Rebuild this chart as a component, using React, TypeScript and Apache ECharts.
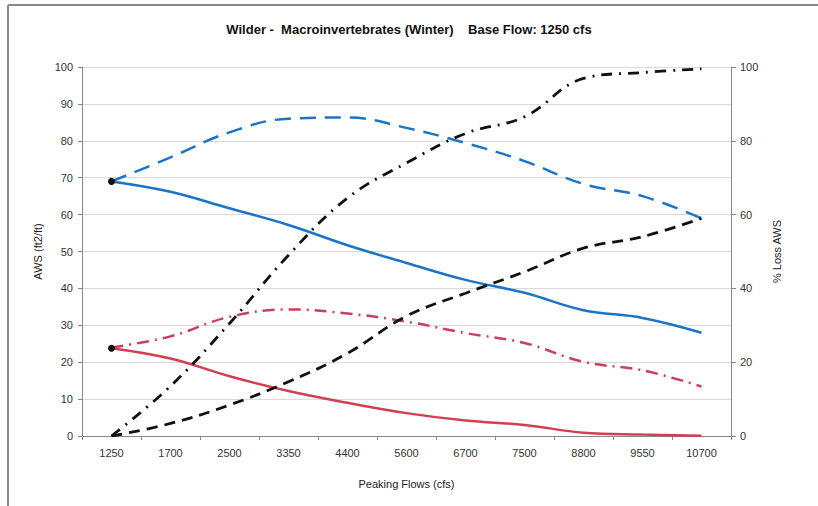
import React, { useEffect, useRef } from "react";
import * as echarts from "echarts";

const categories = ["1250", "1700", "2500", "3350", "4400", "5600", "6700", "7500", "8800", "9550", "10700"];
const awsBlueSolid = [69, 66.2, 61.7, 57.2, 51.7, 46.9, 42.3, 38.8, 34.1, 32, 28];
const awsBlueDashed = [69, 75.5, 82.3, 86, 86.3, 83.5, 79.4, 74.5, 68.3, 65, 59];
const awsRedSolid = [23.8, 21, 16.2, 12.2, 9, 6.2, 4.2, 3, 0.9, 0.4, 0.1];
const awsRedDashDot = [24, 27, 32.3, 34.3, 33.2, 31, 27.9, 25.2, 20.1, 17.8, 13.4];
const lossBlackDashed = [0, 3.4, 8.4, 14.7, 22.4, 32.5, 38.7, 44.5, 50.9, 54, 59];
const lossBlackDashDot = [0, 13.5, 30.5, 49, 64.5, 74, 82, 86.5, 96.9, 98.5, 99.5];

const FONT = "Liberation Sans, Arial, sans-serif";

function withStartMarker(values: number[]) {
  return values.map((v, i) =>
    i === 0
      ? { value: v, symbol: "circle", symbolSize: 7, itemStyle: { color: "#111" } }
      : { value: v, symbol: "none" }
  );
}

export default function App() {
  const ref = useRef<HTMLDivElement>(null);
  useEffect(() => {
    if (!ref.current) return;
    const chart = echarts.init(ref.current, undefined, { renderer: "svg" });
    const lineBase = { type: "line", smooth: 0.4, symbol: "none", showSymbol: true, z: 3 };
    chart.setOption({
      animation: false,
      backgroundColor: "#fff",
      textStyle: { fontFamily: FONT },
      title: {
        text: "Wilder -  Macroinvertebrates (Winter)    Base Flow: 1250 cfs",
        left: "center",
        top: 18,
        textStyle: { fontSize: 13, fontWeight: "bold", color: "#111", fontFamily: FONT },
      },
      graphic: [
        { type: "line", shape: { x1: 8, y1: 5, x2: 818, y2: 5 }, style: { stroke: "#8a8a8a", lineWidth: 2 } },
        { type: "line", shape: { x1: 8, y1: 5, x2: 8, y2: 506 }, style: { stroke: "#8a8a8a", lineWidth: 2 } },
      ],
      grid: { left: 82, right: 87, top: 67, bottom: 70 },
      xAxis: {
        type: "category",
        data: categories,
        boundaryGap: true,
        name: "Peaking Flows (cfs)",
        nameLocation: "middle",
        nameGap: 42,
        nameTextStyle: { fontSize: 11, color: "#222" },
        axisLine: { lineStyle: { color: "#888" } },
        axisTick: { show: true, alignWithLabel: false, length: 4, lineStyle: { color: "#888" } },
        axisLabel: { fontSize: 11, color: "#333", margin: 11 },
      },
      yAxis: [
        {
          type: "value",
          min: 0,
          max: 100,
          interval: 10,
          name: "AWS (ft2/ft)",
          nameLocation: "middle",
          nameRotate: 90,
          nameGap: 36,
          nameTextStyle: { fontSize: 11, color: "#222" },
          axisLine: { show: true, lineStyle: { color: "#888" } },
          axisTick: { show: true, length: 4, lineStyle: { color: "#888" } },
          axisLabel: { fontSize: 11, color: "#333", margin: 9 },
          splitLine: { show: true, lineStyle: { color: "#d9d9d9", width: 1 } },
        },
        {
          type: "value",
          min: 0,
          max: 100,
          interval: 20,
          name: "% Loss AWS",
          nameLocation: "middle",
          nameRotate: 90,
          nameGap: 40,
          nameTextStyle: { fontSize: 11, color: "#222" },
          axisLine: { show: true, lineStyle: { color: "#888" } },
          axisTick: { show: true, length: 5, lineStyle: { color: "#888" } },
          axisLabel: { fontSize: 11, color: "#333", margin: 9 },
          splitLine: { show: false },
        },
      ],
      series: [
        {
          ...lineBase,
          name: "AWS solid blue",
          yAxisIndex: 0,
          data: withStartMarker(awsBlueSolid),
          lineStyle: { color: "#1a74c8", width: 2.5 },
          itemStyle: { color: "#1a74c8" },
        },
        {
          ...lineBase,
          name: "AWS dashed blue",
          yAxisIndex: 0,
          data: awsBlueDashed.map((v) => ({ value: v, symbol: "none" })),
          lineStyle: { color: "#1a74c8", width: 2.5, type: [16, 9] },
          itemStyle: { color: "#1a74c8" },
        },
        {
          ...lineBase,
          name: "AWS solid red",
          yAxisIndex: 0,
          data: withStartMarker(awsRedSolid),
          lineStyle: { color: "#d04050", width: 2.5 },
          itemStyle: { color: "#d04050" },
        },
        {
          ...lineBase,
          name: "AWS dashdot red",
          yAxisIndex: 0,
          data: awsRedDashDot.map((v) => ({ value: v, symbol: "none" })),
          lineStyle: { color: "#c8405a", width: 2.5, type: [12, 6, 2, 6] },
          itemStyle: { color: "#c8405a" },
        },
        {
          ...lineBase,
          name: "% Loss dashed",
          yAxisIndex: 1,
          data: lossBlackDashed.map((v) => ({ value: v, symbol: "none" })),
          lineStyle: { color: "#111", width: 2.8, type: [11, 7] },
          itemStyle: { color: "#111" },
        },
        {
          ...lineBase,
          name: "% Loss dashdot",
          yAxisIndex: 1,
          data: lossBlackDashDot.map((v) => ({ value: v, symbol: "none" })),
          lineStyle: { color: "#111", width: 2.8, type: [11, 7, 2, 7] },
          itemStyle: { color: "#111" },
        },
      ],
    });
    return () => chart.dispose();
  }, []);
  return <div ref={ref} style={{ width: 818, height: 506, position: "absolute", left: 0, top: 0 }} />;
}
